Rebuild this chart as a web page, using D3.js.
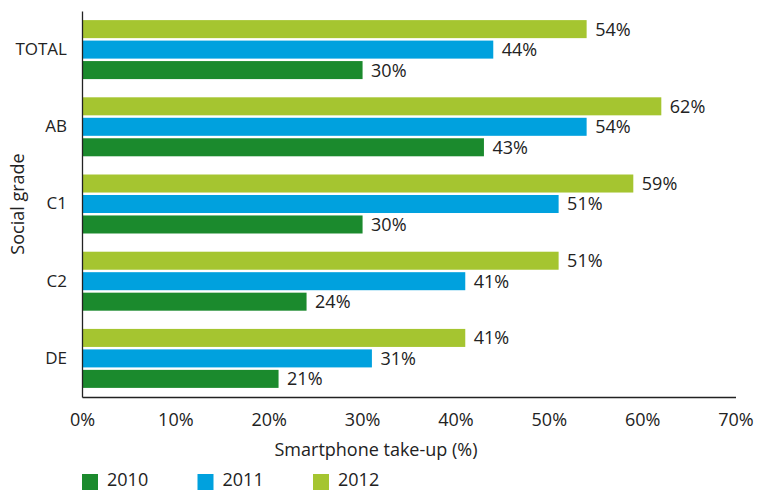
<!DOCTYPE html>
<html>
<head>
<meta charset="utf-8">
<script src="https://cdn.jsdelivr.net/npm/d3@7"></script>
<style>
  body { margin: 0; background: #fff; }
  svg text { font-family: "Open Sans", sans-serif; fill: #222; }
</style>
</head>
<body>
<div class="chart"></div>
<script>
// data
const grades = ["TOTAL", "AB", "C1", "C2", "DE"];
const years = ["2012", "2011", "2010"];
const legendYears = ["2010", "2011", "2012"];
const values2010 = [30, 43, 30, 24, 21];
const values2011 = [44, 54, 51, 41, 31];
const values2012 = [54, 62, 59, 51, 41];
const xTicks = [0, 10, 20, 30, 40, 50, 60, 70];

const seriesByYear = { "2010": values2010, "2011": values2011, "2012": values2012 };
const colors = { "2010": "#1b8a2d", "2011": "#00a1de", "2012": "#a5c530" };

const rows = grades.map((g, i) => ({
    grade: g,
    bars: years.map(y => ({ year: y, value: seriesByYear[y][i] }))
}));

// canvas
const width = 757, height = 490;
const margin = { top: 11, right: 21, bottom: 93, left: 82 };
const chartW = width - margin.left - margin.right;
const chartH = height - margin.top - margin.bottom;

const svg = d3.select(".chart").append("svg")
    .attr("width", width).attr("height", height);
const g = svg.append("g")
    .attr("transform", `translate(${margin.left},${margin.top})`);

// scales
const xScale = d3.scaleLinear([0, 70], [0, chartW - 0.5]);
const yScale = d3.scaleBand()
    .domain(grades)
    .range([0, chartH])
    .paddingInner(0.236)
    .paddingOuter(0.118);
const ySub = d3.scaleBand()
    .domain(years)
    .range([0, yScale.bandwidth()])
    .paddingInner(0.12);

// bars
const groups = g.selectAll(".grade").data(rows).join("g")
    .attr("class", "grade")
    .attr("transform", d => `translate(0,${yScale(d.grade)})`);

groups.selectAll("rect").data(d => d.bars).join("rect")
    .attr("x", 0.5)
    .attr("y", d => ySub(d.year))
    .attr("width", d => xScale(d.value))
    .attr("height", ySub.bandwidth())
    .style("fill", d => colors[d.year]);

groups.selectAll(".val").data(d => d.bars).join("text")
    .attr("class", "val")
    .attr("x", d => xScale(d.value) + 9)
    .attr("y", d => ySub(d.year) + ySub.bandwidth() / 2)
    .attr("dy", "0.36em")
    .style("font-size", "18px")
    .text(d => `${d.value}%`);

// axes
const yAxis = d3.axisLeft(yScale).tickSize(0).tickPadding(15);
const yAxisDraw = g.append("g").attr("class", "y axis").call(yAxis);
yAxisDraw.select(".domain").attr("stroke", "#222").attr("stroke-width", 1.3);
yAxisDraw.selectAll("text").style("font-size", "17px").attr("fill", "#222");

const xAxis = d3.axisBottom(xScale)
    .tickValues(xTicks)
    .tickFormat(d => `${d}%`)
    .tickSize(0)
    .tickPadding(16);
const xAxisDraw = g.append("g").attr("class", "x axis")
    .attr("transform", `translate(0,${chartH})`)
    .call(xAxis);
xAxisDraw.select(".domain").attr("stroke", "#222").attr("stroke-width", 1.3);
xAxisDraw.selectAll("text").style("font-size", "18px").attr("fill", "#222");

// axis titles
svg.append("text")
    .attr("x", 376)
    .attr("y", 450)
    .attr("dy", "0.36em")
    .attr("text-anchor", "middle")
    .style("font-size", "18px")
    .text("Smartphone take-up (%)");

svg.append("text")
    .attr("transform", `translate(24,${margin.top + chartH / 2}) rotate(-90)`)
    .attr("text-anchor", "middle")
    .style("font-size", "18px")
    .text("Social grade");

// legend
const legend = svg.append("g").attr("transform", "translate(82,474)");
const item = legend.selectAll("g").data(legendYears).join("g")
    .attr("transform", (d, i) => `translate(${i * 115.5},0)`);
item.append("rect")
    .attr("width", 16).attr("height", 16)
    .style("fill", d => colors[d]);
item.append("text")
    .attr("x", 25).attr("y", 6).attr("dy", "0.36em")
    .style("font-size", "18px")
    .text(d => d);
</script>
</body>
</html>
